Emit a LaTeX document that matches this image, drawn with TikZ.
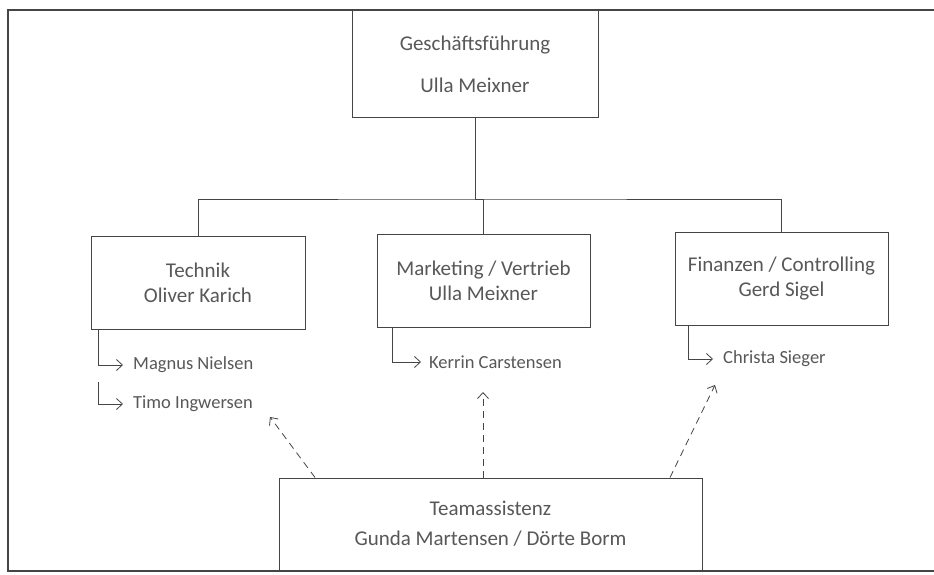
\documentclass[tikz,border=0pt]{standalone}
\usepackage{fontspec}
\setmainfont{Carlito}
\usetikzlibrary{arrows.meta}
\definecolor{txt}{HTML}{585858}
\definecolor{ln}{HTML}{454545}
\begin{document}
\begin{tikzpicture}[x=1pt,y=-1pt,
  box/.style={draw=ln,line width=1pt,rectangle,inner sep=0pt,text=txt,align=center,font=\fontsize{21}{25}\selectfont},
  person/.style={anchor=west,inner sep=0pt,text=txt,font=\fontsize{18.5}{20}\selectfont},
  conn/.style={draw=ln,line width=0.8pt},
  sub/.style={draw=ln,line width=0.8pt,-{Straight Barb[length=6pt,width=11pt]}},
  assist/.style={draw=ln,line width=0.8pt,dash pattern=on 7pt off 5pt,-{Straight Barb[length=6pt,width=11pt]}}]
\useasboundingbox (0,0) rectangle (934,575);
\fill[white] (0,0) rectangle (934,575);
% outer frame
\draw[ln,line width=1.2pt] (934,10) -- (8,10) -- (8,571) -- (934,571);

% boxes
\node[box,minimum width=246pt,minimum height=108pt,font=\fontsize{21}{42}\selectfont] (gf) at (475,64) {Geschäftsführung\\Ulla Meixner};
\node[box,minimum width=214pt,minimum height=93pt] (tech) at (198,283) {Technik\\Oliver Karich};
\node[box,minimum width=213pt,minimum height=93pt] (mkt) at (483.5,280.5) {Marketing / Vertrieb\\Ulla Meixner};
\node[box,minimum width=213pt,minimum height=93pt] (fin) at (781.5,278.5) {Finanzen / Controlling\\Gerd Sigel};
\node[box,minimum width=423pt,minimum height=92pt,font=\fontsize{21}{30}\selectfont] (team) at (490.5,524) {Teamassistenz\\Gunda Martensen / Dörte Borm};

% tree connectors
\coordinate (bus) at (475,199);
\draw[conn] (gf.south) -- (bus);
\draw[conn] (tech.north) |- (bus) -| (fin.north);
\draw[conn] (bus) -- (bus -| mkt.north) -- (mkt.north);

% persons
\node[person] (mn) at (133,365) {Magnus Nielsen};
\node[person] (ti) at (133,404) {Timo Ingwersen};
\node[person] (kc) at (429,362) {Kerrin Carstensen};
\node[person] (cs) at (723,359) {Christa Sieger};

\coordinate (t1) at ([xshift=-100pt]tech.south);
\coordinate (t2) at (98,382);
\coordinate (m1) at ([xshift=-91.5pt]mkt.south);
\coordinate (f1) at ([xshift=-93.5pt]fin.south);
\draw[sub] (t1) |- ([xshift=-10pt]mn.west);
\draw[sub] (t2) |- ([xshift=-10pt]ti.west);
\draw[sub] (m1) |- ([xshift=-8pt]kc.west);
\draw[sub] (f1) |- ([xshift=-10pt]cs.west);

% dashed assistant arrows
\coordinate (a1) at (270,417);
\coordinate (a2) at (483,392);
\coordinate (a3) at (715,385);
\draw[assist] (team.north -| 315,0) -- (a1);
\draw[assist] (team.north -| 483,0) -- (a2);
\draw[assist] (team.north -| 670,0) -- (a3);
\end{tikzpicture}
\end{document}
